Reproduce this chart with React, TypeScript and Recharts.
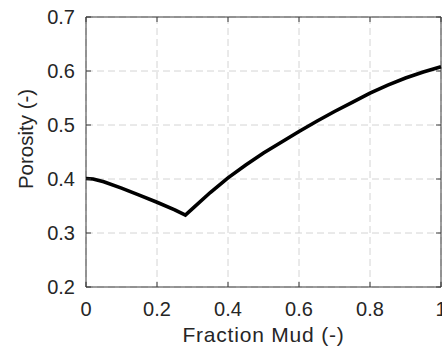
import React from "react";
import {
  LineChart,
  Line,
  XAxis,
  YAxis,
  CartesianGrid,
  ReferenceArea,
} from "recharts";

const fractionMud = [
  0, 0.02, 0.05, 0.1, 0.15, 0.2, 0.25, 0.28, 0.3, 0.35, 0.4, 0.45, 0.5, 0.55,
  0.6, 0.65, 0.7, 0.75, 0.8, 0.85, 0.9, 0.95, 1.0,
];
const porosity = [
  0.401, 0.4, 0.395, 0.383, 0.37, 0.357, 0.343, 0.333, 0.345, 0.375, 0.402,
  0.426, 0.448, 0.468, 0.488, 0.507, 0.525, 0.542, 0.559, 0.574, 0.587, 0.598,
  0.608,
];
const xTicks = [0, 0.2, 0.4, 0.6, 0.8, 1];
const yTicks = [0.2, 0.3, 0.4, 0.5, 0.6, 0.7];
const xLabel = "Fraction Mud (-)";
const yLabel = "Porosity (-)";

const data = fractionMud.map((f, i) => ({ f, p: porosity[i] }));

const W = 442;
const H = 351;
const MARGIN = { top: 17, right: 1, bottom: 0, left: 0 };
const Y_AXIS_W = 86;
const X_AXIS_H = 64;
const PLOT_TOP = MARGIN.top;
const PLOT_BOTTOM = H - X_AXIS_H;
const PLOT_LEFT = Y_AXIS_W;
const PLOT_RIGHT = W - MARGIN.right;
const TICK_LEN = 5;
const AXIS_COLOR = "#3a3a3a";
const TEXT_COLOR = "#262626";
const FONT = "'Liberation Sans', Arial, Helvetica, sans-serif";

const XTick = (props: any) => {
  const { x, y, payload } = props;
  return (
    <g>
      <line x1={x} x2={x} y1={PLOT_BOTTOM} y2={PLOT_BOTTOM - TICK_LEN} stroke={AXIS_COLOR} strokeWidth={1} />
      <line x1={x} x2={x} y1={PLOT_TOP} y2={PLOT_TOP + TICK_LEN} stroke={AXIS_COLOR} strokeWidth={1} />
      <text x={x} y={y} dy="0.71em" textAnchor="middle" fill={TEXT_COLOR} fontSize={20} fontFamily={FONT}>
        {String(payload.value)}
      </text>
    </g>
  );
};

const YTick = (props: any) => {
  const { x, y, payload } = props;
  return (
    <g>
      <line x1={PLOT_LEFT} x2={PLOT_LEFT + TICK_LEN} y1={y} y2={y} stroke={AXIS_COLOR} strokeWidth={1} />
      <line x1={PLOT_RIGHT} x2={PLOT_RIGHT - TICK_LEN} y1={y} y2={y} stroke={AXIS_COLOR} strokeWidth={1} />
      <text x={x} y={y} dy="0.355em" textAnchor="end" fill={TEXT_COLOR} fontSize={20} fontFamily={FONT}>
        {Number(payload.value).toFixed(1)}
      </text>
    </g>
  );
};

export default function App() {
  return (
    <div style={{ position: "absolute", left: 0, top: 0, width: W, height: H, background: "#fff" }}>
      <LineChart width={W} height={H} data={data} margin={MARGIN}>
        <CartesianGrid stroke="#d4d4d4" strokeDasharray="7 4" strokeWidth={1} verticalValues={xTicks} horizontalValues={yTicks} />
        <XAxis
          dataKey="f"
          type="number"
          domain={[0, 1]}
          ticks={xTicks}
          height={X_AXIS_H}
          axisLine={false}
          tickLine={false}
          tickSize={0}
          tickMargin={15}
          tick={<XTick />}
          interval={0}
          label={(p: any) => (
            <text x={263.5} y={342} textAnchor="middle" fill={TEXT_COLOR} fontSize={21} fontFamily={FONT} letterSpacing={0.8}>
              {xLabel}
            </text>
          )}
        />
        <YAxis
          type="number"
          domain={[0.2, 0.7]}
          ticks={yTicks}
          width={Y_AXIS_W}
          axisLine={false}
          tickLine={false}
          tickSize={0}
          tickMargin={11}
          tick={<YTick />}
          interval={0}
          label={(p: any) => (
            <text x={33} y={139} transform="rotate(-90, 33, 139)" textAnchor="middle" fill={TEXT_COLOR} fontSize={20.5} fontFamily={FONT}>
              {yLabel}
            </text>
          )}
        />
        <ReferenceArea x1={0} x2={1} y1={0.2} y2={0.7} fill="none" stroke={AXIS_COLOR} strokeWidth={1} ifOverflow="visible" />
        <Line type="linear" dataKey="p" stroke="#000" strokeWidth={3.6} dot={false} isAnimationActive={false} strokeLinejoin="miter" />
      </LineChart>
    </div>
  );
}
